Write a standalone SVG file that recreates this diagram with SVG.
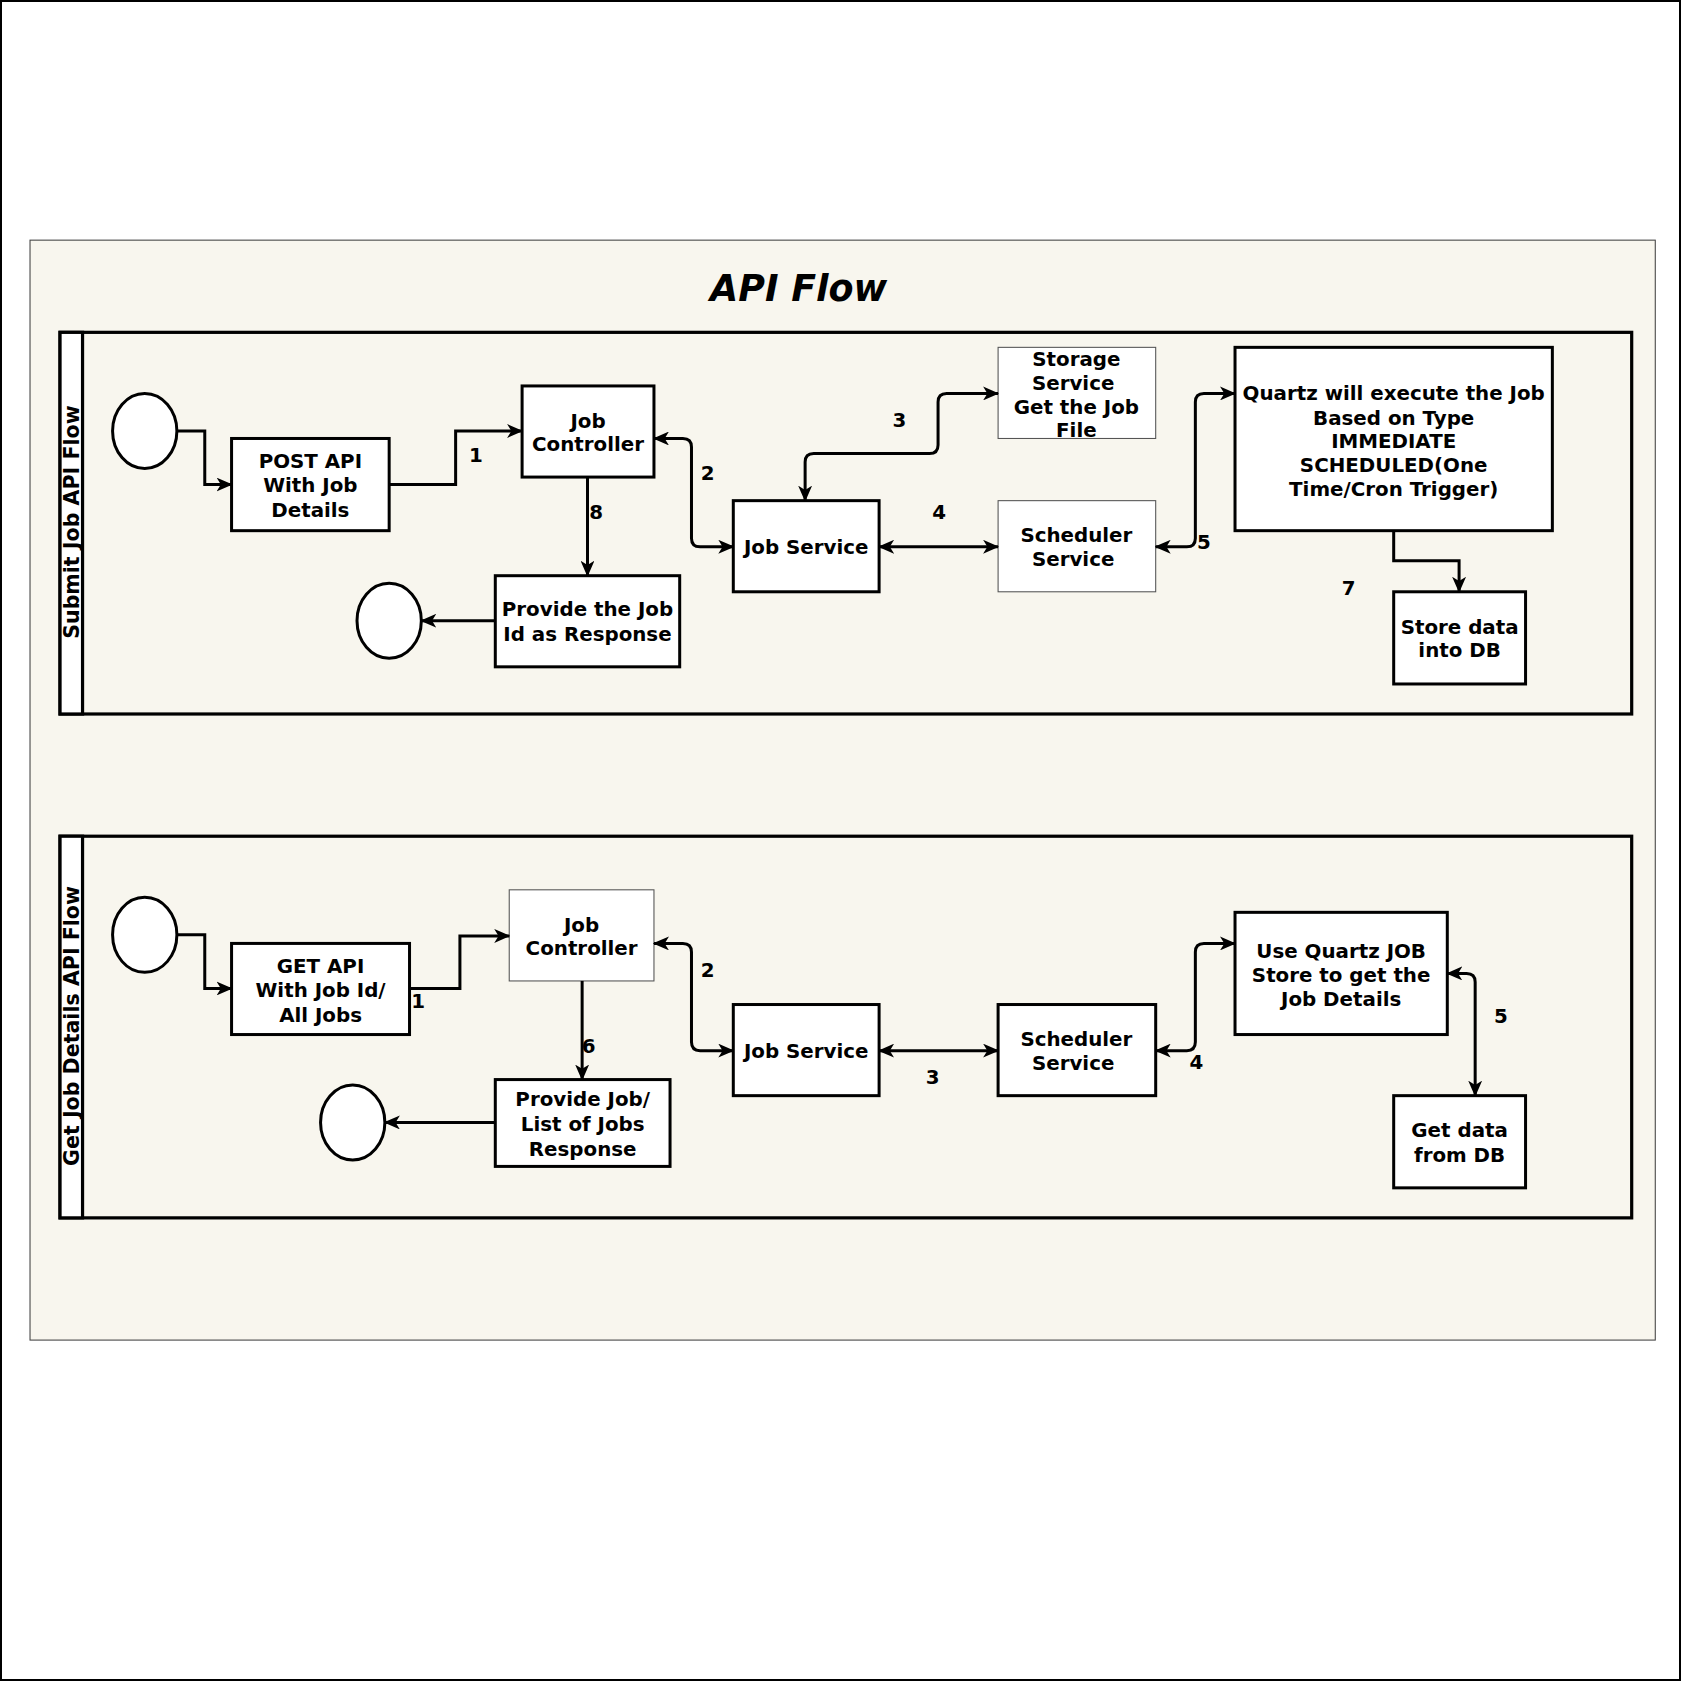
<svg xmlns="http://www.w3.org/2000/svg" width="1681" height="1681" viewBox="0 0 1681 1681">
<style>
.t{font-family:"DejaVu Sans",Verdana,sans-serif;font-weight:bold;font-size:18.5px;fill:#000;text-anchor:middle}
.h{font-size:19.2px}
.n{fill:#fff;stroke:#000;stroke-width:2.8}
.thin{fill:#fff;stroke:#555;stroke-width:1}
.lane{fill:#f8f6ee;stroke:#000;stroke-width:3}
.hdr{fill:#fff;stroke:#000;stroke-width:3}
.c{fill:none;stroke:#000;stroke-width:2.8}
.e{marker-end:url(#ah)}
.b{marker-start:url(#as);marker-end:url(#ah)}
</style>
<defs>
<marker id="ah" markerUnits="userSpaceOnUse" viewBox="0 0 15 13" refX="14" refY="6.5" markerWidth="15" markerHeight="13" orient="auto">
<path d="M0,0 L15,6.5 L0,13 L4,6.5 Z" fill="#000"/>
</marker>
<marker id="as" markerUnits="userSpaceOnUse" viewBox="0 0 15 13" refX="1" refY="6.5" markerWidth="15" markerHeight="13" orient="auto">
<path d="M15,0 L0,6.5 L15,13 L11,6.5 Z" fill="#000"/>
</marker>
</defs>
<rect x="0" y="0" width="1681" height="1681" fill="#fff"/>
<rect x="1" y="1" width="1679" height="1679" fill="none" stroke="#000" stroke-width="2"/>
<g transform="scale(1.07207)">
<g id="container">
<rect x="28" y="224" width="1516" height="1026" fill="#f8f6ee" stroke="#444" stroke-width="1"/>
<text x="745" y="281" style="font-family:'DejaVu Sans',Verdana,sans-serif;font-weight:bold;font-style:italic;font-size:34px;text-anchor:middle">API Flow</text>
</g>
<g id="lane-submit">
<rect class="lane" x="56" y="310" width="1466" height="356"/>
<rect class="hdr" x="56" y="310" width="21" height="356"/>
<text class="t h" transform="translate(74,487) rotate(-90)">Submit Job API Flow</text>
</g>
<g id="lane-get">
<rect class="lane" x="56" y="780" width="1466" height="356"/>
<rect class="hdr" x="56" y="780" width="21" height="356"/>
<text class="t h" transform="translate(74,957) rotate(-90)">Get Job Details API Flow</text>
</g>
<g id="s-start"><ellipse class="n" cx="135" cy="402" rx="30" ry="35"/></g>
<g id="s-post"><rect class="n" x="216" y="409" width="147" height="86"/>
<text class="t" x="289.5" y="437">POST API</text><text class="t" x="289.5" y="459">With Job</text><text class="t" x="289.5" y="482">Details</text></g>
<g id="s-controller"><rect class="n" x="487" y="360" width="123" height="85"/>
<text class="t" x="548.5" y="399">Job</text><text class="t" x="548.5" y="421">Controller</text></g>
<g id="s-provide"><rect class="n" x="462" y="537" width="172" height="85"/>
<text class="t" x="548" y="575">Provide the Job</text><text class="t" x="548" y="598">Id as Response</text></g>
<g id="s-end"><ellipse class="n" cx="363" cy="579" rx="30" ry="35"/></g>
<g id="s-jobservice"><rect class="n" x="684" y="467" width="136" height="85"/>
<text class="t" x="752" y="517">Job Service</text></g>
<g id="s-storage"><rect class="thin" x="931" y="324" width="147" height="85"/>
<text class="t" x="1004" y="341">Storage</text><text class="t" x="1001" y="364">Service</text><text class="t" x="1004" y="386">Get the Job</text><text class="t" x="1004" y="408">File</text></g>
<g id="s-scheduler"><rect class="thin" x="931" y="467" width="147" height="85"/>
<text class="t" x="1004" y="506">Scheduler</text><text class="t" x="1001" y="528">Service</text></g>
<g id="s-quartz"><rect class="n" x="1152" y="324" width="296" height="171"/>
<text class="t" x="1300" y="373">Quartz will execute the Job</text><text class="t" x="1300" y="396">Based on Type</text><text class="t" x="1300" y="418">IMMEDIATE</text><text class="t" x="1300" y="440">SCHEDULED(One</text><text class="t" x="1300" y="463">Time/Cron Trigger)</text></g>
<g id="s-store"><rect class="n" x="1300" y="552" width="123" height="86"/>
<text class="t" x="1361.5" y="591">Store data</text><text class="t" x="1361.5" y="613">into DB</text></g>
<g id="g-start"><ellipse class="n" cx="135" cy="872" rx="30" ry="35"/></g>
<g id="g-get"><rect class="n" x="216" y="880" width="166" height="85"/>
<text class="t" x="299" y="908">GET API</text><text class="t" x="299" y="930">With Job Id/</text><text class="t" x="299" y="953">All Jobs</text></g>
<g id="g-controller"><rect class="thin" x="475" y="830" width="135" height="85"/>
<text class="t" x="542.5" y="869">Job</text><text class="t" x="542.5" y="891">Controller</text></g>
<g id="g-provide"><rect class="n" x="462" y="1007" width="163" height="81"/>
<text class="t" x="543.5" y="1032">Provide Job/</text><text class="t" x="543.5" y="1055">List of Jobs</text><text class="t" x="543.5" y="1078">Response</text></g>
<g id="g-end"><ellipse class="n" cx="329" cy="1047" rx="30" ry="35"/></g>
<g id="g-jobservice"><rect class="n" x="684" y="937" width="136" height="85"/>
<text class="t" x="752" y="987">Job Service</text></g>
<g id="g-scheduler"><rect class="n" x="931" y="937" width="147" height="85"/>
<text class="t" x="1004" y="976">Scheduler</text><text class="t" x="1001" y="998">Service</text></g>
<g id="g-quartz"><rect class="n" x="1152" y="851" width="198" height="114"/>
<text class="t" x="1251" y="894">Use Quartz JOB</text><text class="t" x="1251" y="916">Store to get the</text><text class="t" x="1251" y="938">Job Details</text></g>
<g id="g-db"><rect class="n" x="1300" y="1022" width="123" height="86"/>
<text class="t" x="1361.5" y="1061">Get data</text><text class="t" x="1361.5" y="1084">from DB</text></g>
<g id="connectors">
<path class="c e" d="M165,402 H191 V452 H216"/>
<path class="c e" d="M363,452 H425 V402 H487"/>
<path class="c b" d="M610,409 H637 Q645,409 645,417 V502 Q645,510 653,510 H684"/>
<path class="c e" d="M548,445 V537"/>
<path class="c e" d="M462,579 H393"/>
<path class="c b" d="M751,467 V431 Q751,423 759,423 H867 Q875,423 875,415 V375 Q875,367 883,367 H931"/>
<path class="c b" d="M820,510 H931"/>
<path class="c b" d="M1078,510 H1107 Q1115,510 1115,502 V375 Q1115,367 1123,367 H1152"/>
<path class="c e" d="M1300,495 V523 H1361 V552"/>
<path class="c e" d="M165,872 H191 V922 H216"/>
<path class="c e" d="M382,922 H429 V873 H475"/>
<path class="c b" d="M610,880 H637 Q645,880 645,888 V972 Q645,980 653,980 H684"/>
<path class="c e" d="M543,915 V1007"/>
<path class="c e" d="M462,1047 H359"/>
<path class="c b" d="M820,980 H931"/>
<path class="c b" d="M1078,980 H1107 Q1115,980 1115,972 V888 Q1115,880 1123,880 H1152"/>
<path class="c b" d="M1350,908 H1368 Q1376,908 1376,916 V1022"/>
<g id="labels">
<text class="t" x="444" y="431">1</text>
<text class="t" x="660" y="448">2</text>
<text class="t" x="556" y="484">8</text>
<text class="t" x="839" y="398">3</text>
<text class="t" x="876" y="484">4</text>
<text class="t" x="1123" y="512">5</text>
<text class="t" x="1258" y="555">7</text>
<text class="t" x="390" y="940">1</text>
<text class="t" x="660" y="911">2</text>
<text class="t" x="549" y="982">6</text>
<text class="t" x="870" y="1011">3</text>
<text class="t" x="1116" y="997">4</text>
<text class="t" x="1400" y="954">5</text>
</g>
</g>
</g>
</svg>
